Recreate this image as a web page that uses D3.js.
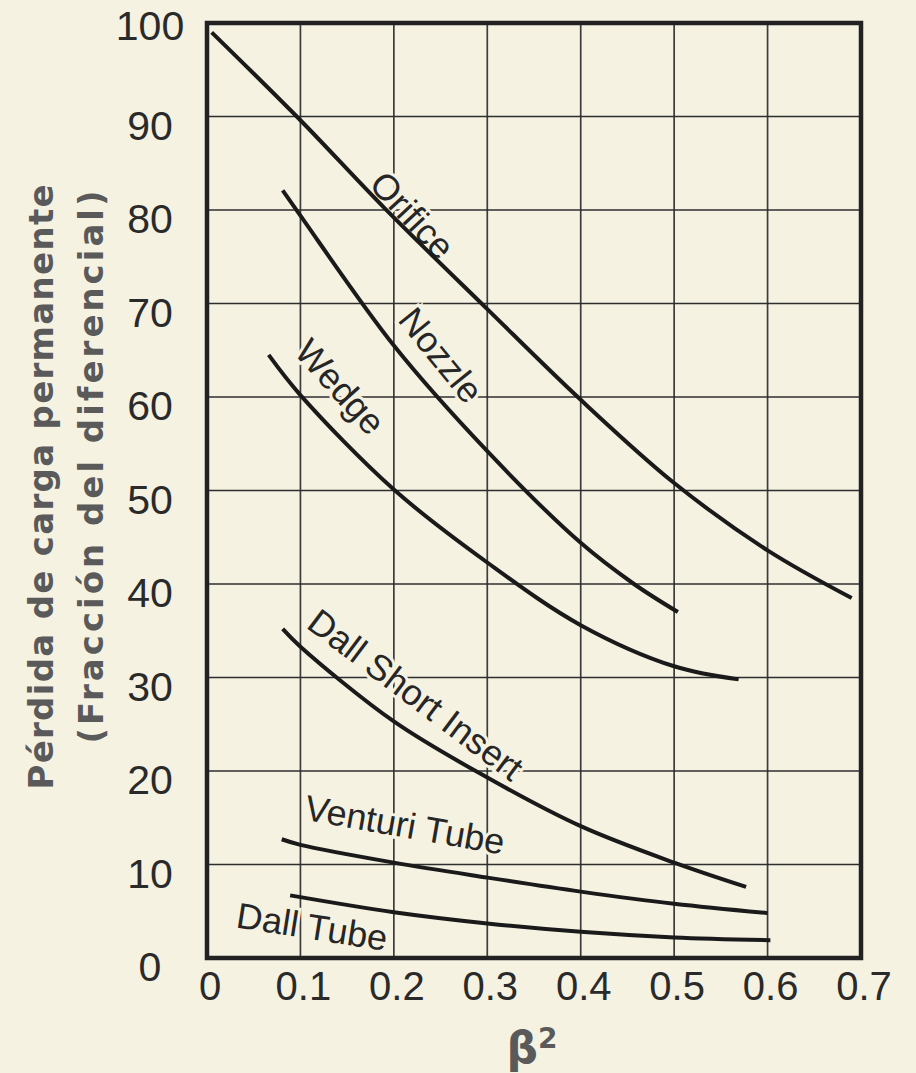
<!DOCTYPE html>
<html>
<head>
<meta charset="utf-8">
<script src="https://cdn.jsdelivr.net/npm/d3@7"></script>
<style>
  body { margin: 0; background: #f5f2e2; }
</style>
</head>
<body>
<svg id="chart" width="916" height="1073"></svg>
<script>
// data (beta^2 , % permanent loss)
const xTicks = [0, 0.1, 0.2, 0.3, 0.4, 0.5, 0.6, 0.7];
const yTicks = [0, 10, 20, 30, 40, 50, 60, 70, 80, 90, 100];

const orifice   = [[0.005, 99], [0.1, 89.6], [0.19, 80.2], [0.3, 69.4], [0.4, 59.7], [0.5, 50.8], [0.6, 43.6], [0.69, 38.5]];
const nozzle    = [[0.081, 82.1], [0.1, 79.4], [0.2, 65.5], [0.3, 54.2], [0.4, 44.4], [0.457, 40], [0.504, 37]];
const wedge     = [[0.066, 64.5], [0.1, 60.2], [0.2, 50.1], [0.3, 42.3], [0.4, 35.6], [0.5, 31.2], [0.569, 29.8]];
const dallShort = [[0.081, 35.2], [0.1, 33.3], [0.2, 25.3], [0.3, 19.3], [0.4, 14.1], [0.5, 10.2], [0.577, 7.6]];
const venturi   = [[0.08, 12.7], [0.1, 12.1], [0.2, 10.2], [0.3, 8.6], [0.4, 7.1], [0.5, 5.8], [0.6, 4.8]];
const dallTube  = [[0.089, 6.7], [0.2, 4.9], [0.3, 3.7], [0.4, 2.8], [0.5, 2.2], [0.603, 1.9]];

const seriesNames = ["Orifice", "Nozzle", "Wedge", "Dall Short Insert", "Venturi Tube", "Dall Tube"];
const seriesData  = [orifice, nozzle, wedge, dallShort, venturi, dallTube];

// where each curve name sits (data units) and its slant
const labelAt    = [[0.172, 82.6], [0.203, 68.2], [0.092, 64.7], [0.105, 35.4], [0.103, 14.8], [0.030, 3.3]];
const labelAngle = [47, 51, 48, 37, 10, 9];

const svg = d3.select("#chart");
const bg = "#f5f2e2";

const x = d3.scaleLinear().domain([0, 0.7]).range([207, 861]);
const y = d3.scaleLinear().domain([0, 100]).range([958, 23]);

svg.append("rect").attr("width", 916).attr("height", 1073).attr("fill", bg);

// grid
svg.append("g").selectAll("line").data(xTicks.slice(1, -1)).enter().append("line")
  .attr("x1", d => x(d)).attr("x2", d => x(d))
  .attr("y1", y(0)).attr("y2", y(100))
  .attr("stroke", "#3c3c3c").attr("stroke-width", 1.7);
svg.append("g").selectAll("line").data(yTicks.slice(1, -1)).enter().append("line")
  .attr("x1", x(0)).attr("x2", x(0.7))
  .attr("y1", d => y(d)).attr("y2", d => y(d))
  .attr("stroke", "#2e2e2e").attr("stroke-width", 1.5);

// curve names (with a halo that cuts the grid)
const tickFont = "'Liberation Sans', Arial, sans-serif";
svg.append("g").selectAll("text").data(seriesNames).enter().append("text")
  .attr("transform", (d, i) => `translate(${x(labelAt[i][0])},${y(labelAt[i][1])}) rotate(${labelAngle[i]})`)
  .attr("font-family", tickFont)
  .attr("font-size", 36)
  .attr("fill", "#262626")
  .attr("stroke", bg).attr("stroke-width", 6)
  .attr("paint-order", "stroke")
  .text(d => d);

// curves
const line = d3.line().x(d => x(d[0])).y(d => y(d[1])).curve(d3.curveCatmullRom.alpha(0.5));
svg.append("g").selectAll("path").data(seriesData).enter().append("path")
  .attr("d", line)
  .attr("fill", "none")
  .attr("stroke", "#1a1a1a")
  .attr("stroke-width", 4);

// frame
svg.append("rect")
  .attr("x", x(0)).attr("y", y(100))
  .attr("width", x(0.7) - x(0)).attr("height", y(0) - y(100))
  .attr("fill", "none").attr("stroke", "#222").attr("stroke-width", 4.5);

// tick labels
svg.append("g").selectAll("text").data(xTicks).enter().append("text")
  .attr("x", d => x(d) + 3).attr("y", 1000)
  .attr("text-anchor", "middle")
  .attr("font-family", tickFont).attr("font-size", 40)
  .attr("fill", "#2a2a2a")
  .text(d => d);
svg.append("g").selectAll("text").data(yTicks).enter().append("text")
  .attr("x", 150).attr("y", d => d === 100 ? y(d) + 17 : y(d) + 23)
  .attr("text-anchor", "middle")
  .attr("font-family", tickFont).attr("font-size", 41)
  .attr("fill", "#2a2a2a")
  .text(d => d);

// axis titles
const title = svg.append("text")
  .attr("transform", "rotate(-90)")
  .attr("font-family", "'DejaVu Sans', sans-serif")
  .attr("font-weight", "bold")
  .attr("font-size", 34)
  .attr("fill", "#5a5a5a")
  .attr("text-anchor", "middle");
title.append("tspan").attr("x", -487).attr("y", 53)
  .attr("textLength", 605).attr("lengthAdjust", "spacing")
  .text("Pérdida de carga permanente");
title.append("tspan").attr("x", -467).attr("y", 103)
  .attr("textLength", 553).attr("lengthAdjust", "spacing")
  .text("(Fracción del diferencial)");

const beta = svg.append("text")
  .attr("x", 532).attr("y", 1063)
  .attr("text-anchor", "middle")
  .attr("font-family", "'DejaVu Sans', sans-serif")
  .attr("font-weight", "bold")
  .attr("font-size", 44)
  .attr("fill", "#5a5a5a");
beta.append("tspan").text("β");
beta.append("tspan").attr("font-size", 28).attr("dy", -15).text("2");
</script>
</body>
</html>
